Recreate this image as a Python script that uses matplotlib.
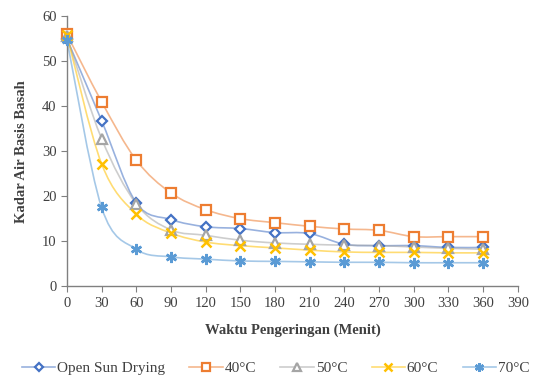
import numpy as np
import matplotlib
matplotlib.use("Agg")
from matplotlib import pyplot as plt
from matplotlib.path import Path
from matplotlib.patches import PathPatch
from matplotlib.lines import Line2D

plt.rcParams['font.family'] = ['Liberation Serif', 'DejaVu Serif']

waktu = [0, 30, 60, 90, 120, 150, 180, 210, 240, 270, 300, 330, 360]
open_sun = [55.0, 36.8, 18.5, 14.8, 13.2, 12.8, 11.9, 11.7, 9.3, 9.0, 9.0, 8.6, 8.6]
suhu_40 = [56.0, 41.0, 28.0, 20.7, 17.0, 15.0, 14.1, 13.3, 12.7, 12.4, 11.0, 11.0, 11.0]
suhu_50 = [55.5, 32.8, 18.3, 12.5, 11.3, 10.2, 9.6, 9.3, 9.1, 9.0, 8.7, 8.4, 8.2]
suhu_60 = [55.8, 27.2, 16.0, 11.8, 9.8, 9.0, 8.5, 8.0, 7.6, 7.5, 7.5, 7.4, 7.4]
suhu_70 = [54.8, 17.5, 8.2, 6.5, 6.0, 5.6, 5.5, 5.4, 5.3, 5.3, 5.2, 5.2, 5.2]

series = [
    ("Open Sun Drying", open_sun, "#4472C4", "D", 5),
    ("40°C", suhu_40, "#ED7D31", "s", 7),
    ("50°C", suhu_50, "#A5A5A5", "^", 7),
    ("60°C", suhu_60, "#FFC000", "x", 7),
    ("70°C", suhu_70, "#5B9BD5", (6, 2, 0), 8),
]


def smooth_path(ax, x, y):
    # excel-like smoothed line: cubic bezier segments in display space
    pts = ax.transData.transform(np.column_stack([x, y]))
    n = len(pts)
    verts = [pts[0]]
    codes = [Path.MOVETO]
    t = 1.0 / 6.0
    for i in range(n - 1):
        p0 = pts[i - 1] if i > 0 else pts[i]
        p1 = pts[i]
        p2 = pts[i + 1]
        p3 = pts[i + 2] if i + 2 < n else pts[i + 1]
        c1 = p1 + (p2 - p0) * t
        c2 = p2 - (p3 - p1) * t
        verts += [c1, c2, p2]
        codes += [Path.CURVE4] * 3
    return Path(verts, codes)


fig = plt.figure(figsize=(5.35, 3.76), dpi=100)
ax = fig.add_axes([0.125, 0.239, 0.843, 0.718])
ax.set_xlim(0, 390)
ax.set_ylim(0, 60)
ax.set_xticks(range(0, 391, 30))
ax.set_yticks(range(0, 61, 10))

for s in ["top", "right"]:
    ax.spines[s].set_visible(False)
for s in ["left", "bottom"]:
    ax.spines[s].set_color("#808080")
    ax.spines[s].set_linewidth(1.0)
ax.tick_params(colors="#404040", labelsize=10.5, length=4, color="#808080")
for lab in ax.get_xticklabels() + ax.get_yticklabels():
    lab.set_color("#404040")

fig.canvas.draw()
handles = []
for name, vals, col, mk, ms in series:
    p = smooth_path(ax, waktu, vals)
    ax.add_patch(PathPatch(p, transform=None, facecolor="none", edgecolor=col,
                           alpha=0.55, lw=1.2, zorder=2))
    ln = Line2D([], [], color=col, lw=1.2, alpha=0.55)
    if mk in ("x", (6, 2, 0)):
        ax.plot(waktu, vals, linestyle="none", marker=mk, ms=ms, mew=1.8,
                color=col, zorder=3, clip_on=False)
        m = Line2D([], [], linestyle="none", color=col, marker=mk,
                   ms=ms * 0.8, mew=1.8)
    else:
        ax.plot(waktu, vals, linestyle="none", marker=mk, ms=ms, mew=1.6,
                mfc="white", mec=col, zorder=3, clip_on=False)
        m = Line2D([], [], linestyle="none", marker=mk, ms=ms * 0.8, mew=1.6,
                   mfc="white", mec=col)
    handles.append((ln, m))

ax.set_xlabel("Waktu Pengeringan (Menit)", fontsize=10.5, fontweight="bold",
              color="#404040", labelpad=10)
ax.set_ylabel("Kadar Air Basis Basah", fontsize=10.5, fontweight="bold",
              color="#404040", labelpad=10)

leg = fig.legend(handles, [s[0] for s in series], loc="lower center",
                 bbox_to_anchor=(0.515, -0.035), ncol=5, frameon=False,
                 fontsize=11, handlelength=2.2, columnspacing=1.6,
                 handletextpad=0.1)
for t in leg.get_texts():
    t.set_color("#404040")

fig.savefig("out.png", dpi=100)
